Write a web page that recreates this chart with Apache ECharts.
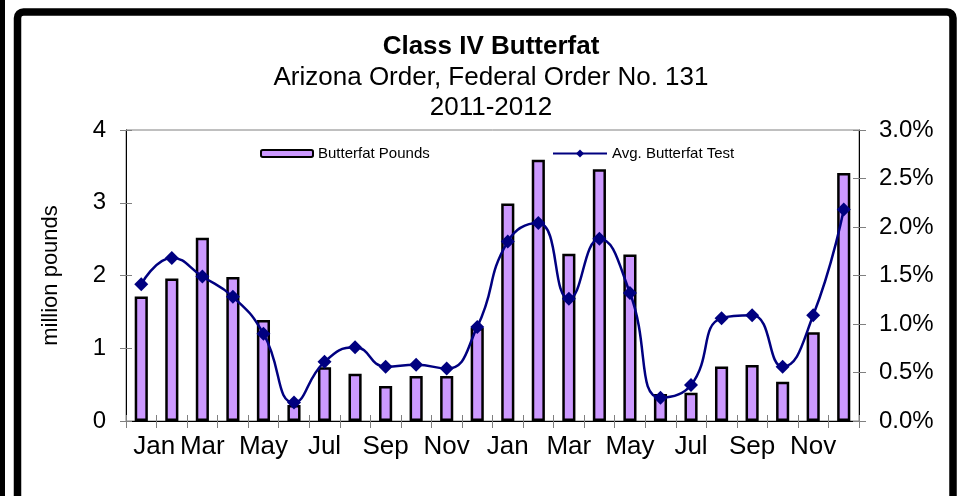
<!DOCTYPE html>
<html>
<head>
<meta charset="utf-8">
<script src="https://cdn.jsdelivr.net/npm/echarts@6/dist/echarts.min.js"></script>
<style>
  html, body { margin: 0; padding: 0; background: #fff; }
  #chart { width: 961px; height: 496px; }
</style>
</head>
<body>
<div id="chart"></div>
<script>
  // 2011-2012, monthly
  const months = ['Jan', 'Feb', 'Mar', 'Apr', 'May', 'Jun', 'Jul', 'Aug', 'Sep', 'Oct', 'Nov', 'Dec',
    'Jan', 'Feb', 'Mar', 'Apr', 'May', 'Jun', 'Jul', 'Aug', 'Sep', 'Oct', 'Nov', 'Dec'];
  // million pounds
  const butterfatPounds = [1.71, 1.96, 2.52, 1.98, 1.39, 0.22, 0.74, 0.65, 0.48, 0.62, 0.62, 1.28,
    2.99, 3.59, 2.30, 3.46, 2.29, 0.37, 0.39, 0.75, 0.77, 0.54, 1.22, 3.41];
  // percent
  const avgTest = [1.41, 1.68, 1.49, 1.28, 0.90, 0.19, 0.61, 0.76, 0.56, 0.58, 0.54, 0.97,
    1.85, 2.04, 1.26, 1.88, 1.32, 0.24, 0.37, 1.06, 1.09, 0.56, 1.09, 2.18];

  const FONT = "'Liberation Sans', Arial, sans-serif";
  const BAR_COLOR = '#CC99FF';
  const LINE_COLOR = '#000080';
  const TICK_COLOR = '#808080';

  const chart = echarts.init(document.getElementById('chart'));

  // hidden copy of an axis, only draws the inner half of the ticks
  function innerTicks(base) {
    return Object.assign({}, base, {
      axisLine: { show: false },
      axisLabel: { show: false },
      splitLine: { show: false },
      name: '',
      axisTick: { show: true, inside: true, length: 6, lineStyle: { color: TICK_COLOR } }
    });
  }

  const xBase = {
    type: 'category',
    data: months,
    position: 'bottom',
    boundaryGap: true,
    axisLine: { lineStyle: { color: '#000', width: 1 } },
    axisTick: { show: true, interval: 0, length: 7, lineStyle: { color: TICK_COLOR } },
    axisLabel: {
      interval: 1, color: '#000', fontSize: 26, fontFamily: FONT, margin: 13,
      // the first label sits a bit to the right in the original
      formatter: (v, i) => i === 0 ? '{first|' + v + '}' : v,
      rich: { first: { fontSize: 26, fontFamily: FONT, color: '#000', padding: [0, 0, 0, 26] } }
    }
  };
  const yLeft = {
    type: 'value',
    position: 'left',
    min: 0, max: 4, interval: 1,
    name: 'million pounds',
    nameLocation: 'middle',
    nameGap: 64,
    nameTextStyle: { fontSize: 22, fontFamily: FONT, color: '#000' },
    axisLine: { show: true, lineStyle: { color: '#000' } },
    axisTick: { show: true, length: 6, lineStyle: { color: TICK_COLOR } },
    axisLabel: { color: '#000', fontSize: 24, fontFamily: FONT, margin: 20 },
    splitLine: { show: false }
  };
  const yRight = {
    type: 'value',
    position: 'right',
    min: 0, max: 3, interval: 0.5,
    axisLine: { show: true, lineStyle: { color: '#000' } },
    axisTick: { show: true, length: 7, lineStyle: { color: TICK_COLOR } },
    axisLabel: {
      color: '#000', fontSize: 24, fontFamily: FONT, margin: 20,
      formatter: v => v.toFixed(1) + '%'
    },
    splitLine: { show: false }
  };

  const option = {
    backgroundColor: '#fff',
    animation: false,
    title: [
      { text: 'Class IV Butterfat', left: 486, textAlign: 'center', top: 29,
        textStyle: { fontSize: 26, fontWeight: 'bold', fontFamily: FONT, color: '#000' } },
      { text: 'Arizona Order, Federal Order No. 131', left: 486, textAlign: 'center', top: 60,
        textStyle: { fontSize: 26, fontWeight: 'normal', fontFamily: FONT, color: '#000' } },
      { text: '2011-2012', left: 486, textAlign: 'center', top: 90,
        textStyle: { fontSize: 26, fontWeight: 'normal', fontFamily: FONT, color: '#000' } }
    ],
    legend: [
      { data: ['Butterfat Pounds'], left: 255, top: 141, itemWidth: 52, itemHeight: 7,
        textStyle: { fontSize: 15, fontFamily: FONT, color: '#000' } },
      { data: ['Avg. Butterfat Test'], left: 547, top: 141, itemWidth: 54, itemHeight: 10,
        textStyle: { fontSize: 15, fontFamily: FONT, color: '#000' } }
    ],
    grid: {
      left: 126, right: 102, top: 130, bottom: 75,
      show: true, borderColor: '#808080', borderWidth: 1
    },
    xAxis: [xBase, innerTicks(xBase)],
    yAxis: [yLeft, yRight, innerTicks(yLeft), innerTicks(yRight)],
    series: [
      {
        name: 'Butterfat Pounds',
        type: 'bar',
        xAxisIndex: 0,
        yAxisIndex: 0,
        barWidth: '43%',
        itemStyle: { color: BAR_COLOR, borderColor: '#000', borderWidth: 2.5 },
        data: butterfatPounds
      },
      {
        name: 'Avg. Butterfat Test',
        type: 'line',
        xAxisIndex: 0,
        yAxisIndex: 1,
        smooth: 0.5,
        symbol: 'diamond',
        symbolSize: 14,
        lineStyle: { color: LINE_COLOR, width: 2.5 },
        itemStyle: { color: LINE_COLOR },
        data: avgTest
      }
    ],
    graphic: [
      { type: 'rect', shape: { x: 0, y: 0, width: 5, height: 496 }, style: { fill: '#000' } },
      { type: 'rect', shape: { x: 17.5, y: 12, width: 935.5, height: 494, r: 6 },
        style: { fill: 'none', stroke: '#000', lineWidth: 7.5 } }
    ]
  };

  chart.setOption(option);
  window.addEventListener('resize', () => chart.resize());
</script>
</body>
</html>
